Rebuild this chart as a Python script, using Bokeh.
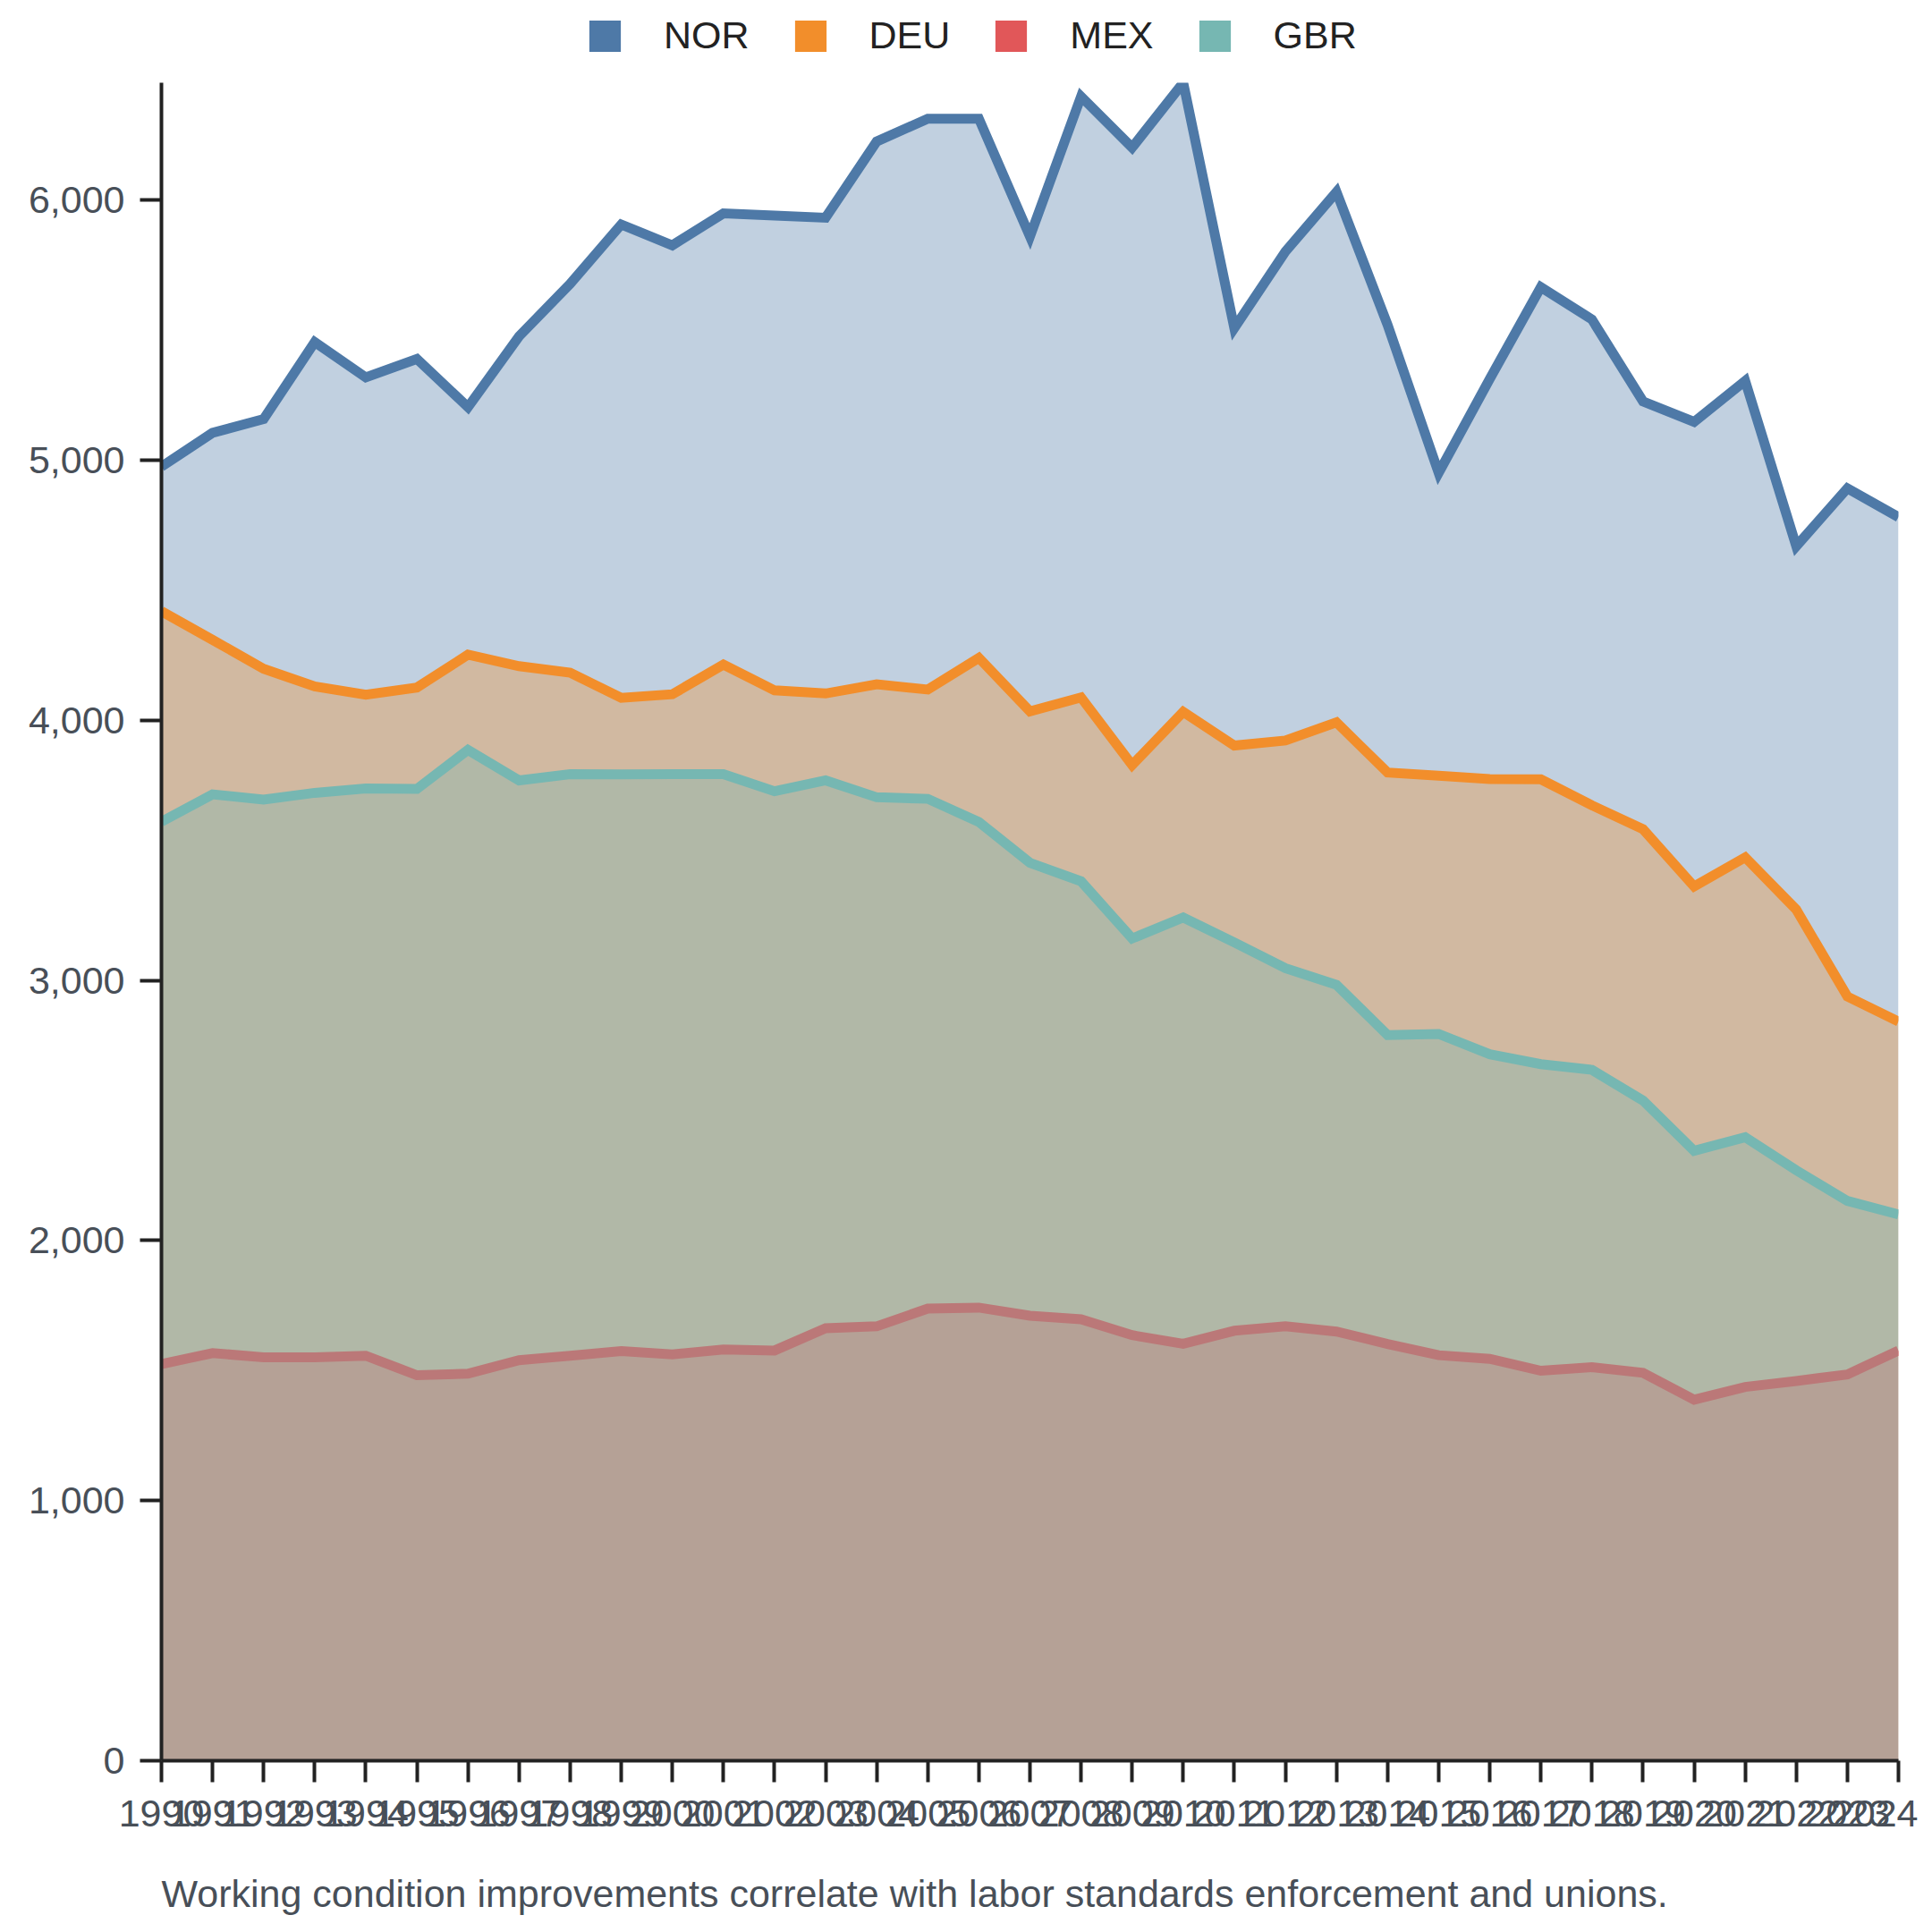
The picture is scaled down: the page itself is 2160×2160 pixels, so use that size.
import numpy as np
from bokeh.plotting import figure
from bokeh.layouts import column
from bokeh.models import (ColumnDataSource, Range1d, FixedTicker, NumeralTickFormatter,
                          Legend, LegendItem, Title)
from bokeh.embed import file_html
from bokeh.resources import INLINE

years = list(range(1990, 2025))

mex = [1525, 1567, 1551, 1551, 1557, 1482, 1488, 1540, 1557, 1575, 1562, 1581, 1577, 1663,
       1670, 1738, 1742, 1711, 1697, 1636, 1603, 1653, 1670, 1650, 1602, 1559, 1545, 1499,
       1513, 1491, 1388, 1437, 1460, 1485, 1577]
gbr = [2085, 2148, 2144, 2170, 2181, 2254, 2398, 2229, 2236, 2217, 2231, 2212, 2150, 2106,
       2034, 1960, 1867, 1741, 1684, 1525, 1639, 1493, 1377, 1333, 1188, 1235, 1171, 1179,
       1143, 1047, 957, 960, 810, 667, 523]
deu = [809, 594, 503, 409, 360, 390, 366, 439, 390, 294, 307, 421, 388, 334,
       434, 420, 631, 582, 707, 667, 790, 757, 875, 1009, 1009, 993, 1058, 1095,
       1017, 1043, 1016, 1076, 1002, 786, 742]
nor = [556, 796, 960, 1324, 1220, 1263, 952, 1268, 1495, 1820, 1726, 1735, 1825, 1829,
       2087, 2195, 2073, 1826, 2310, 2374, 2419, 1605, 1880, 2039, 1721, 1164, 1538, 1892,
       1868, 1645, 1786, 1832, 1397, 1954, 1939]

legend_order = ["NOR", "DEU", "MEX", "GBR"]   # drawing / legend order
stack_order = ["MEX", "GBR", "DEU", "NOR"]    # bottom to top
colors = {"NOR": "#4e79a7", "DEU": "#f28e2b", "MEX": "#e15759", "GBR": "#76b7b2"}
y_ticks = [0, 1000, 2000, 3000, 4000, 5000, 6000]
caption = "Working condition improvements correlate with labor standards enforcement and unions."

values = {"MEX": mex, "GBR": gbr, "DEU": deu, "NOR": nor}
cols = {"year": years, "zero": [0] * len(years)}
running = np.zeros(len(years))
for name in stack_order:
    running = running + np.array(values[name], dtype=float)
    cols[name + "_top"] = running.copy()
source = ColumnDataSource(cols)
ymax = float(max(cols["NOR_top"]))

FONT = "Liberation Sans"
TICK_COLOR = "#484f58"

W = 2144
LEG_H = 92
MAIN_H = 2052
BL, BR, BB = 180, 22, 176

# ---- legend strip (separate figure above the chart) ----
leg = figure(width=W, height=LEG_H, output_backend="svg", toolbar_location=None,
             x_axis_type=None, y_axis_type=None, min_border=0,
             x_range=Range1d(0, 1), y_range=Range1d(0, 1))
leg.outline_line_color = None
leg.xgrid.visible = False
leg.ygrid.visible = False
items = []
for name in legend_order:
    # zero-size quads, used only as legend swatches
    r = leg.quad(left="year", right="year", top="zero", bottom="zero", source=source,
                 fill_color=colors[name], line_color=None)
    items.append(LegendItem(label=name, renderers=[r]))
legend = Legend(items=items, orientation="horizontal", location=(474, 28),
                glyph_width=44, glyph_height=44, label_standoff=44, spacing=46,
                padding=0, margin=0, border_line_color=None, background_fill_alpha=0,
                label_text_font=FONT, label_text_font_size="43px", label_text_color="#222222")
leg.add_layout(legend, "center")

# ---- main chart ----
p = figure(width=W, height=MAIN_H, output_backend="svg", toolbar_location=None,
           x_range=Range1d(years[0], years[-1]), y_range=Range1d(0, ymax),
           min_border_left=BL, min_border_right=BR, min_border_top=0,
           min_border_bottom=BB)
p.outline_line_color = None
p.xgrid.visible = False
p.ygrid.visible = False

for name in legend_order:
    c = colors[name]
    p.varea(x="year", y1=0, y2=name + "_top", source=source, fill_color=c, fill_alpha=0.35)
    p.line(x="year", y=name + "_top", source=source, line_color=c, line_width=11,
           line_join="miter")

for ax in (p.xaxis[0], p.yaxis[0]):
    ax.axis_line_width = 4
    ax.axis_line_color = "#222222"
    ax.major_tick_line_width = 4
    ax.major_tick_line_color = "#222222"
    ax.major_tick_out = 24
    ax.major_tick_in = 0
    ax.minor_tick_out = 0
    ax.minor_tick_in = 0
    ax.major_label_text_font = FONT
    ax.major_label_text_font_size = "43px"
    ax.major_label_text_color = TICK_COLOR

p.xaxis.ticker = FixedTicker(ticks=years)
p.xaxis.major_label_standoff = 20
p.yaxis.ticker = FixedTicker(ticks=y_ticks)
p.yaxis.formatter = NumeralTickFormatter(format="0,0")
p.yaxis.major_label_standoff = 17

spacer = Title(text=" ", text_font=FONT, text_font_size="40px", standoff=0)
p.add_layout(spacer, "below")
t = Title(text=caption, align="left", text_font=FONT, text_font_size="43px",
          text_font_style="normal", text_color=TICK_COLOR, standoff=0)
p.add_layout(t, "below")

layout = column(leg, p, spacing=0)
open("out.html", "w").write(file_html(layout, INLINE))
